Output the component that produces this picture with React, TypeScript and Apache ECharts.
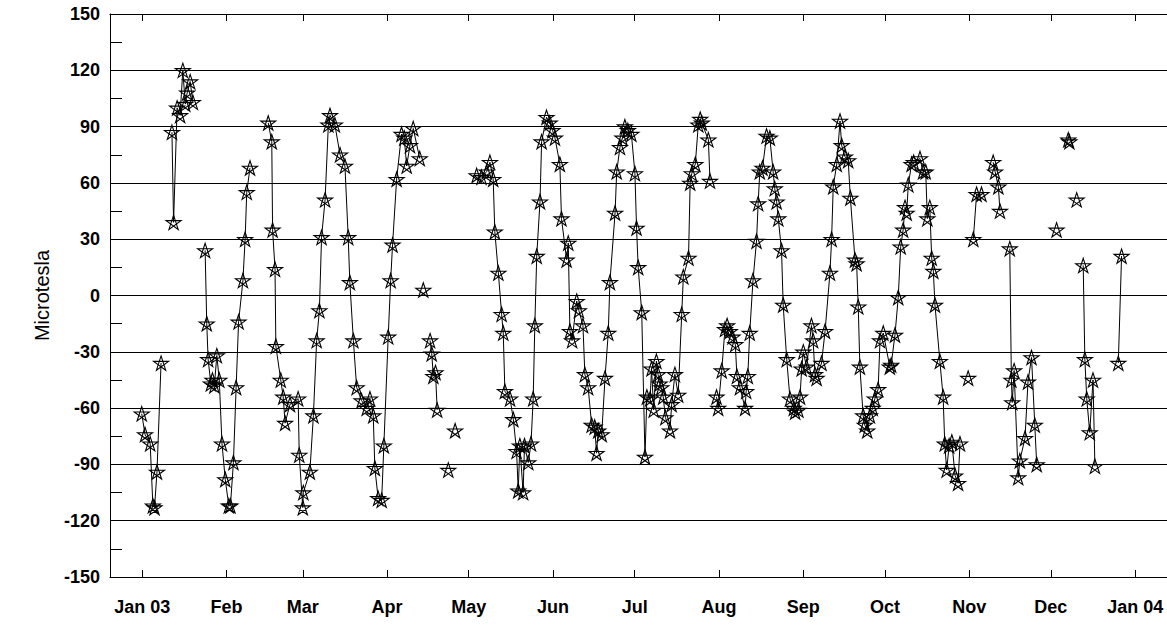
import React, { useEffect, useRef } from "react";
import * as echarts from "echarts";

// x = day of 2003 (0 = Jan 1), y = Microtesla
const monthStartDays = [0, 31, 59, 90, 120, 151, 181, 212, 243, 273, 304, 334, 365];
const monthLabels = ["Jan 03", "Feb", "Mar", "Apr", "May", "Jun", "Jul", "Aug", "Sep", "Oct", "Nov", "Dec", "Jan 04"];
const yTicks = [-150, -120, -90, -60, -30, 0, 30, 60, 90, 120, 150];

const segJanA = [[-0.2, -63], [1, -74], [2.9, -79], [3.9, -112], [4.5, -113], [5.4, -94], [6.9, -36]];
const segJanB = [[10.9, 87], [11.5, 39], [12.8, 100], [13.9, 96], [14.9, 120], [15.8, 102], [16.5, 108], [17.6, 114], [18.6, 103]];
const segJanFeb = [
  [23.1, 24], [23.7, -15], [24.2, -34], [25.2, -47], [25.8, -45], [26.5, -48], [27.4, -32], [28.3, -45],
  [29.3, -79], [30.5, -98], [31.8, -112], [32.4, -112], [33.5, -89], [34.5, -49], [35.4, -14], [37, 8],
  [37.8, 30], [38.4, 55], [39.6, 68],
];
const segFebApr = [
  [46.3, 92], [47.6, 82], [47.9, 35], [48.8, 14], [49.1, -27], [50.9, -45], [51.8, -54], [52.5, -68],
  [54.3, -58], [57.3, -55], [57.7, -85], [59, -113], [59.2, -105], [61.6, -94], [62.9, -64], [64.1, -24],
  [65.1, -8], [65.9, 31], [67.2, 51], [68.4, 91], [69, 96], [70.8, 91], [72.7, 75], [74.5, 69],
  [75.7, 31], [76.3, 7], [77.6, -24], [78.8, -49], [80.6, -56], [82.5, -60], [83.7, -55], [84.9, -64],
  [85.5, -92], [86.7, -108], [88, -109], [88.8, -80], [90.4, -22], [91.3, 8], [92, 27], [93.5, 62],
  [95.3, 86], [96.3, 84], [97.2, 69], [98.4, 80], [99.6, 89], [102, 73],
];
const pointApr = [[103.3, 3]];
const segApr = [[105.8, -24], [106.4, -31], [107, -43], [107.8, -41], [108.4, -61]];
const pointAprB = [[112.5, -93]];
const pointAprC = [[115, -72]];
const segMayJul = [
  [122.9, 64], [124.7, 63], [126.6, 66], [127.8, 71], [129, 62], [129.6, 34], [130.9, 12], [132.1, -10],
  [132.7, -20], [133.3, -51], [135.2, -55], [136.4, -66], [137.6, -83], [138.2, -104], [138.8, -80],
  [140, -105], [140.5, -80], [141.9, -89], [142.9, -79], [143.7, -55], [144.3, -16], [145, 21], [146.2, 50],
  [146.8, 82], [148.6, 95], [149.8, 92], [150.8, 88], [151.7, 84], [153.5, 70], [154.1, 41], [156, 19],
  [156.6, 28], [157.2, -19], [158, -24], [159.7, -3], [160.5, -8], [162, -16], [162.7, -42], [163.9, -49],
  [165.2, -69], [166.3, -70], [167, -84], [167.6, -72], [168.9, -74], [170.1, -44], [171.3, -20], [171.9, 7],
  [173.8, 44], [174.4, 66], [175.6, 79], [176.5, 84], [177.4, 90], [178.5, 88], [179.8, 86], [181.1, 65],
  [181.7, 36], [182.3, 15], [183.6, -9], [184.8, -86], [185.5, -54], [186.7, -55], [187.2, -39], [188, -61],
  [189, -35], [189.6, -42], [190.2, -47], [190.8, -49], [191.5, -54], [192.3, -65], [194, -72], [194.6, -58],
  [195.8, -42], [197, -53], [198.3, -10], [198.9, 10], [200.8, 20], [201.4, 60], [202, 65], [203.3, 70],
  [204.4, 91], [205.1, 94], [205.7, 92], [208.1, 83], [208.7, 61],
];
const segAugOct = [
  [211.1, -54], [211.7, -60], [213, -40], [214.2, -18], [215, -16], [216, -19], [217, -22], [218, -26],
  [218.6, -43], [219.7, -49], [221.6, -60], [222, -51], [222.6, -43], [223.3, -20], [224.5, 8], [225.8, 29],
  [226.4, 49], [227, 66], [228, 68], [229.5, 85], [230.7, 84], [231.9, 66], [232.5, 57], [233.2, 50],
  [233.8, 41], [235, 24], [235.6, -5], [236.9, -34], [238.1, -55], [239.5, -60], [240, -62], [241.2, -61],
  [241.8, -54], [242.4, -39], [243, -30], [244.2, -38], [246, -16], [246.6, -24], [247.3, -42], [247.9, -44],
  [249.7, -36], [251, -19], [252.8, 12], [253.4, 30], [254, 58], [255.3, 70], [256.5, 93], [257.1, 80],
  [258.3, 74], [259.5, 72], [260.3, 52], [262, 19], [262.6, 17], [263.2, -6], [263.8, -38], [265, -64],
  [265.6, -69], [266.5, -72], [267.5, -64], [268.5, -60], [269.3, -55], [270.5, -50], [271.2, -24],
  [272.4, -20], [274.8, -38], [275.3, -37], [276.7, -21], [277.9, -1], [278.8, 26], [279.7, 35], [280.4, 47],
  [281, 44], [281.6, 59], [282.8, 70], [283.6, 71], [285.9, 73], [287, 66], [288, 66], [288.6, 41],
  [289.5, 47], [290.2, 20], [290.8, 13], [291.4, -5], [293.2, -35], [294.4, -54], [295, -79], [295.7, -93],
  [296.6, -80], [297.6, -78], [298.8, -96], [299.9, -100], [300.6, -79],
];
const pointNov = [[303.6, -44]];
const segNovA = [[305.5, 30], [306.7, 54], [308.5, 54]];
const segNovB = [[312.8, 71], [313.5, 66], [314.7, 58], [315.3, 45]];
const segNovC = [
  [318.9, 25], [319.5, -45], [319.8, -57], [320.5, -40], [322, -97], [322.6, -88], [324.5, -76],
  [325.6, -46], [326.9, -33], [328.1, -69], [328.8, -90],
];
const pointDecA = [[336.1, 35]];
const pointDecB = [[340.4, 83], [340.8, 82]];
const pointDecC = [[343.5, 51]];
const segDec = [[345.9, 16], [346.5, -34], [347.2, -55], [348.3, -73], [349.5, -45], [350.2, -91]];
const segDecEnd = [[358.8, -36], [360, 21]];

const lineSegments = [segJanA, segJanB, segJanFeb, segFebApr, segApr, segMayJul, segAugOct, segNovA, segNovB, segNovC, segDec, segDecEnd];
const isolatedPoints = [pointApr, pointAprB, pointAprC, pointNov, pointDecA, pointDecB, pointDecC];

const STAR = "path://M50,0 L79.4,90.5 L2.4,34.5 L97.6,34.5 L20.6,90.5 Z";
const FONT = "'Liberation Sans', Arial, sans-serif";

export default function App() {
  const ref = useRef<HTMLDivElement>(null);
  useEffect(() => {
    document.body.style.margin = "0";
    const chart = echarts.init(ref.current!, null, { renderer: "svg" });
    const starItem = { color: "rgba(255,255,255,0)", borderColor: "#000", borderWidth: 1.1, opacity: 1 };
    const series: any[] = [];
    lineSegments.forEach((seg) =>
      series.push({
        type: "line",
        data: seg,
        symbol: STAR,
        symbolSize: 15,
        symbolKeepAspect: true,
        showSymbol: true,
        lineStyle: { color: "#000", width: 1 },
        itemStyle: starItem,
        z: 3,
      })
    );
    isolatedPoints.forEach((pts) =>
      series.push({
        type: "scatter",
        data: pts,
        symbol: STAR,
        symbolSize: 15,
        symbolKeepAspect: true,
        itemStyle: starItem,
        z: 3,
      })
    );
    const xMin = -11.87;
    const xMax = 376.7;
    const labelStyle = { color: "#000", fontSize: 18, fontWeight: "bold" as const, fontFamily: FONT };
    chart.setOption({
      animation: false,
      backgroundColor: "#fff",
      grid: { left: 110, right: 0, top: 14, bottom: 48, containLabel: false },
      xAxis: [
        {
          type: "value",
          position: "bottom",
          min: xMin,
          max: xMax,
          axisLine: { show: true, onZero: false, lineStyle: { color: "#000", width: 1 } },
          axisTick: { show: true, inside: true, length: 7, customValues: monthStartDays, lineStyle: { color: "#000" } },
          axisLabel: {
            show: true,
            customValues: monthStartDays,
            margin: 21,
            ...labelStyle,
            formatter: (v: number) => {
              const i = monthStartDays.indexOf(Math.round(v));
              return i >= 0 ? monthLabels[i] : "";
            },
          },
          splitLine: { show: false },
        },
        {
          type: "value",
          position: "top",
          min: xMin,
          max: xMax,
          axisLine: { show: true, onZero: false, lineStyle: { color: "#000", width: 1 } },
          axisTick: { show: true, inside: true, length: 7, customValues: monthStartDays, lineStyle: { color: "#000" } },
          axisLabel: { show: false },
          splitLine: { show: false },
        },
      ],
      yAxis: {
        type: "value",
        min: yTicks[0],
        max: yTicks[yTicks.length - 1],
        interval: 30,
        name: "Microtesla",
        nameLocation: "middle",
        nameGap: 58,
        nameTextStyle: { color: "#000", fontSize: 20, fontFamily: FONT },
        axisLine: { show: true, onZero: false, lineStyle: { color: "#000", width: 1 } },
        axisTick: { show: true, inside: true, length: 12, lineStyle: { color: "#000" } },
        minorTick: { show: true, splitNumber: 2, length: 12, lineStyle: { color: "#000" } },
        axisLabel: { ...labelStyle, margin: 10 },
        splitLine: { show: true, lineStyle: { color: "#000", width: 1 } },
      },
      series,
    });
    return () => chart.dispose();
  }, []);
  return <div ref={ref} style={{ width: 1167, height: 625, background: "#fff" }} />;
}
